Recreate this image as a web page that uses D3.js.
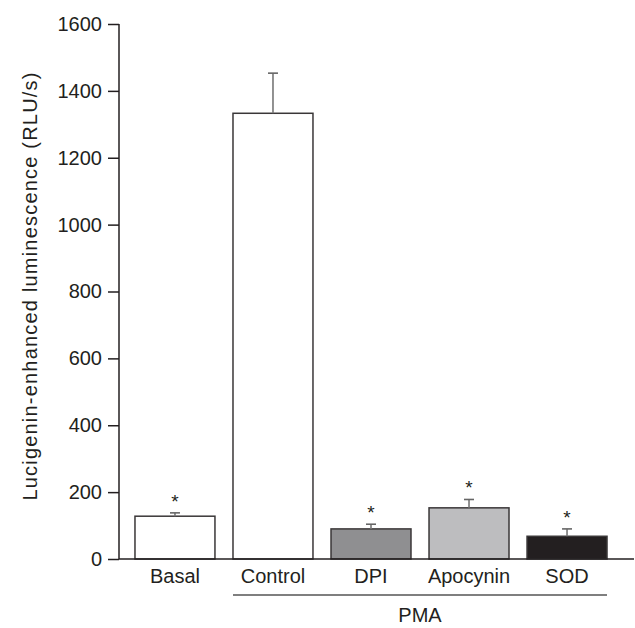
<!DOCTYPE html>
<html>
<head>
<meta charset="utf-8">
<script src="https://cdn.jsdelivr.net/npm/d3@7"></script>
<style>
  html, body { margin: 0; padding: 0; background: #fff; }
  svg text { font-family: "Liberation Sans", Arial, Helvetica, sans-serif; fill: #231f20; }
</style>
</head>
<body>
<div id="chart"></div>
<script>
const categories = ["Basal", "Control", "DPI", "Apocynin", "SOD"];
const means = [128, 1333, 90, 153, 68];
const errors = [10, 120, 14, 25, 22];
const significant = [true, false, true, true, true];
const barColors = ["#ffffff", "#ffffff", "#8f8f91", "#bdbdbf", "#231f20"];
const yTicks = [0, 200, 400, 600, 800, 1000, 1200, 1400, 1600];
const groupLabel = "PMA";
const groupMembers = ["Control", "DPI", "Apocynin", "SOD"];
const yLabel = "Lucigenin-enhanced luminescence (RLU/s)";

const width = 635, height = 628;
const axisX = 119, axisY0 = 559, axisTop = 24;

const svg = d3.select("#chart").append("svg")
  .attr("width", width)
  .attr("height", height);

const x = d3.scaleBand()
  .domain(categories)
  .range([axisX, 623])
  .paddingInner(0.184)
  .paddingOuter(0.163);

const y = d3.scaleLinear()
  .domain([0, 1600])
  .range([axisY0, axisTop]);

// bars
svg.selectAll(".bar")
  .data(categories)
  .enter()
  .append("rect")
  .attr("class", "bar")
  .attr("x", d => x(d))
  .attr("y", (d, i) => y(means[i]))
  .attr("width", x.bandwidth())
  .attr("height", (d, i) => y(0) - y(means[i]))
  .attr("fill", (d, i) => barColors[i])
  .attr("stroke", "#3a3738")
  .attr("stroke-width", 1.5);

// error bars (upper only)
const err = svg.append("g");
categories.forEach((c, i) => {
  const cx = x(c) + x.bandwidth() / 2;
  const top = y(means[i] + errors[i]);
  err.append("line")
    .attr("x1", cx).attr("x2", cx)
    .attr("y1", y(means[i])).attr("y2", top)
    .attr("stroke", "#777").attr("stroke-width", 1.6);
  err.append("line")
    .attr("x1", cx - 5).attr("x2", cx + 5)
    .attr("y1", top).attr("y2", top)
    .attr("stroke", "#666").attr("stroke-width", 1.6);
  if (significant[i]) {
    svg.append("text")
      .attr("x", cx)
      .attr("y", top - 5)
      .attr("text-anchor", "middle")
      .style("font-size", "19px")
      .text("*");
  }
});

// y axis
const yAxis = svg.append("g")
  .attr("transform", `translate(${axisX},0)`)
  .call(d3.axisLeft(y).tickValues(yTicks).tickSize(11).tickPadding(6).tickFormat(d3.format("d")));
yAxis.select(".domain").attr("stroke", "#231f20").attr("stroke-width", 1.5).attr("d", `M0,${axisY0}V${axisTop}`);
yAxis.selectAll(".tick line").attr("stroke", "#231f20").attr("stroke-width", 1.5);
yAxis.selectAll(".tick text")
  .style("font-size", "20px")
  .attr("fill", "#231f20");

// x axis baseline
svg.append("line")
  .attr("x1", axisX).attr("x2", 634)
  .attr("y1", y(0)).attr("y2", y(0))
  .attr("stroke", "#231f20").attr("stroke-width", 1.5);

// category labels
svg.selectAll(".cat")
  .data(categories)
  .enter()
  .append("text")
  .attr("class", "cat")
  .attr("x", d => x(d) + x.bandwidth() / 2)
  .attr("y", 583)
  .attr("text-anchor", "middle")
  .style("font-size", "20px")
  .text(d => d);

// group bracket
const gx1 = x(groupMembers[0]);
const gx2 = x(groupMembers[groupMembers.length - 1]) + x.bandwidth();
svg.append("line")
  .attr("x1", gx1).attr("x2", gx2)
  .attr("y1", 595).attr("y2", 595)
  .attr("stroke", "#555").attr("stroke-width", 1.5);
svg.append("text")
  .attr("x", (gx1 + gx2) / 2)
  .attr("y", 622)
  .attr("text-anchor", "middle")
  .style("font-size", "20px")
  .text(groupLabel);

// y label
svg.append("text")
  .attr("transform", "translate(37,286) rotate(-90)")
  .attr("text-anchor", "middle")
  .style("font-size", "20px")
  .style("letter-spacing", "1.2px")
  .text(yLabel);
</script>
</body>
</html>
